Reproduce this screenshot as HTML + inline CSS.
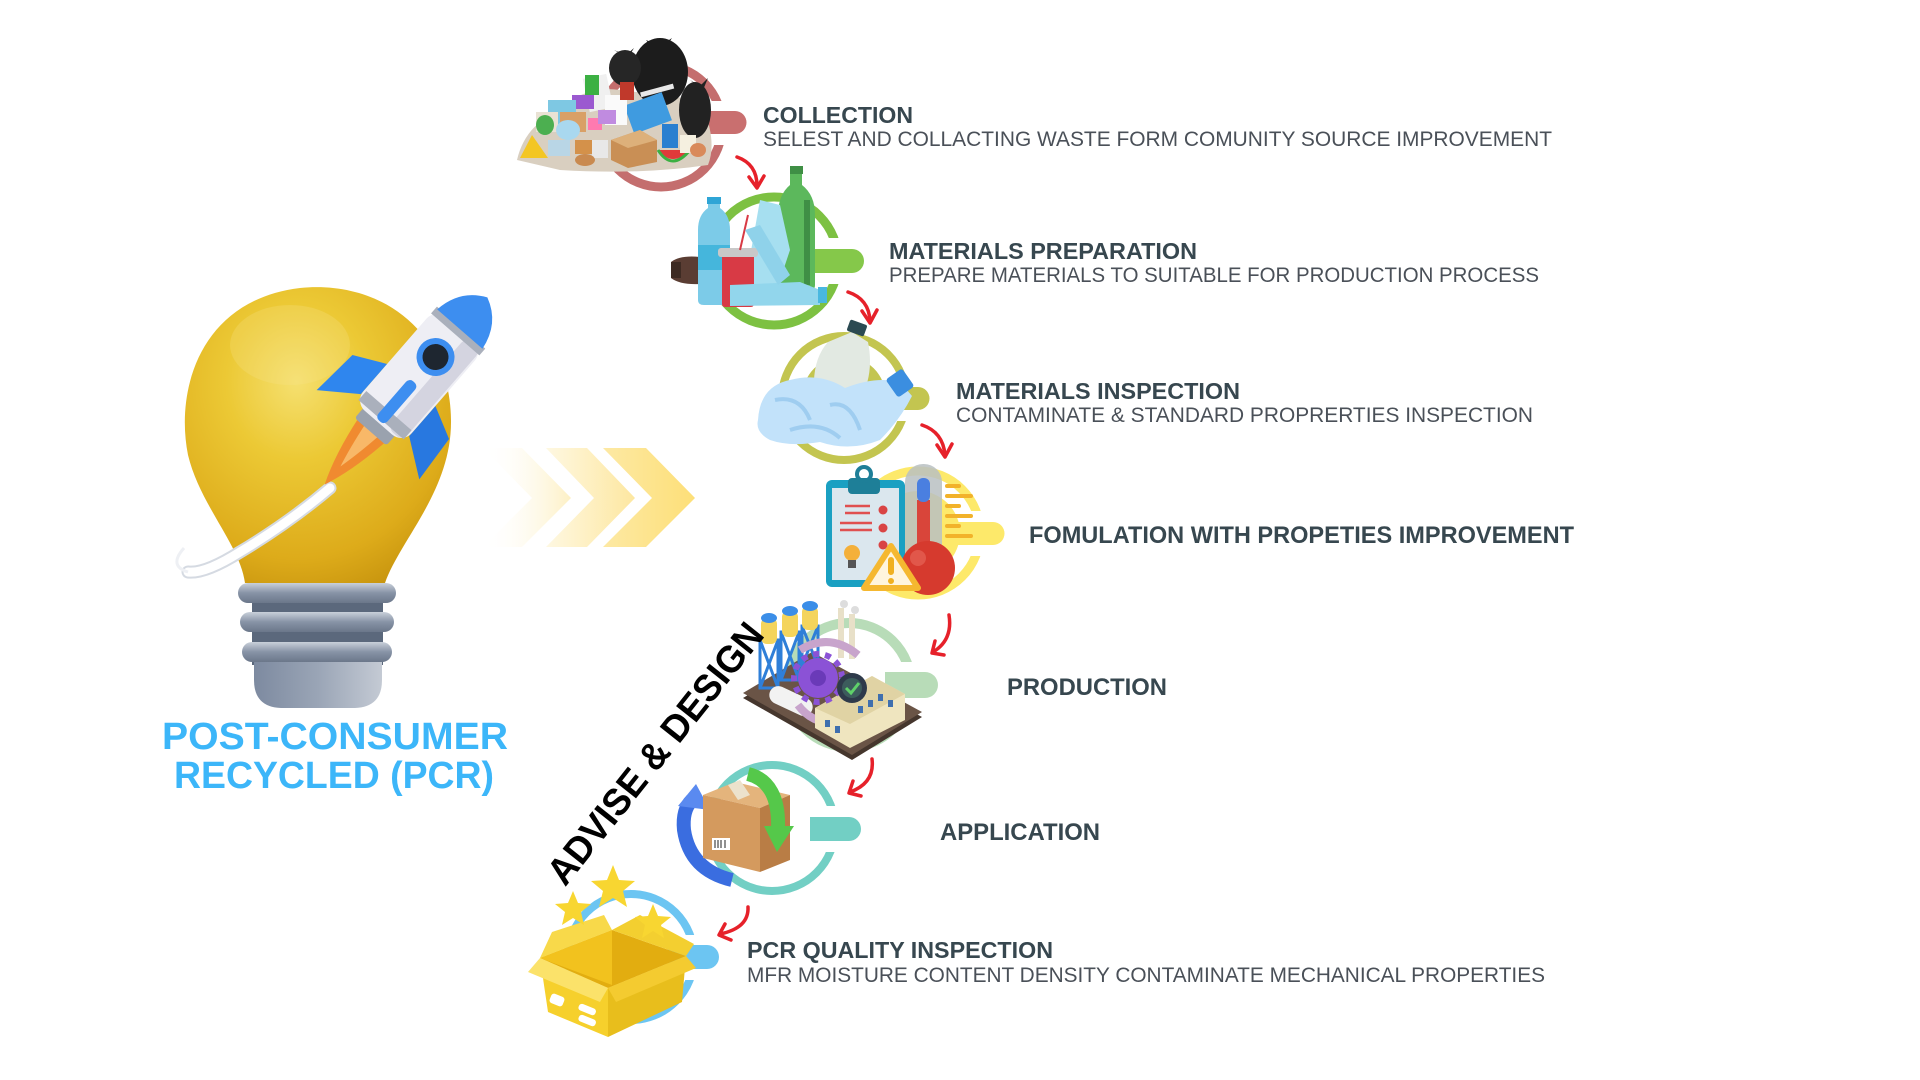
<!DOCTYPE html>
<html><head><meta charset="utf-8"><style>
html,body{margin:0;padding:0;background:#fff;width:1920px;height:1080px;overflow:hidden}
svg{display:block}
.h{font-family:"Liberation Sans",sans-serif;font-weight:bold;fill:#37474f}
.s{font-family:"Liberation Sans",sans-serif;fill:#4a5058}
</style></head><body>
<svg width="1920" height="1080" viewBox="0 0 1920 1080" xmlns="http://www.w3.org/2000/svg">
<defs>
<radialGradient id="bulbG" cx="0.42" cy="0.32" r="0.75">
<stop offset="0" stop-color="#f5e070"/><stop offset="0.35" stop-color="#ecc935"/><stop offset="0.8" stop-color="#ddab1a"/><stop offset="1" stop-color="#c9960f"/>
</radialGradient>
<linearGradient id="metal" x1="0" y1="0" x2="0" y2="1">
<stop offset="0" stop-color="#c9d0da"/><stop offset="0.5" stop-color="#8793a6"/><stop offset="1" stop-color="#6b778a"/>
</linearGradient>
<linearGradient id="metal2" x1="0" y1="0" x2="1" y2="0">
<stop offset="0" stop-color="#7d8aa0"/><stop offset="0.5" stop-color="#9aa5b6"/><stop offset="1" stop-color="#c4cad4"/>
</linearGradient>
<linearGradient id="ch1" gradientUnits="userSpaceOnUse" x1="483" y1="0" x2="571" y2="0">
<stop offset="0" stop-color="#fff" stop-opacity="0"/><stop offset="1" stop-color="#fdf0c4"/>
</linearGradient>
<linearGradient id="ch2" gradientUnits="userSpaceOnUse" x1="546" y1="0" x2="635" y2="0">
<stop offset="0" stop-color="#fef8e2"/><stop offset="1" stop-color="#fde7a0"/>
</linearGradient>
<linearGradient id="ch3" gradientUnits="userSpaceOnUse" x1="603" y1="0" x2="695" y2="0">
<stop offset="0" stop-color="#fde9a4"/><stop offset="1" stop-color="#fddf78"/>
</linearGradient>
</defs>
<rect width="1920" height="1080" fill="#fff"/>

<!-- ===== Lightbulb ===== -->
<path d="M 245 583 C 240 545 200 505 188 455 C 175 390 200 300 300 288 C 380 280 450 330 451 420 C 452 490 400 540 385 583 Z" fill="url(#bulbG)"/>
<ellipse cx="290" cy="345" rx="60" ry="40" fill="#f6e58c" opacity="0.25"/>
<rect x="252" y="585" width="131" height="80" fill="#5b687c"/>
<rect x="238" y="583" width="158" height="20" rx="10" fill="url(#metal)"/>
<rect x="240" y="612" width="154" height="20" rx="10" fill="url(#metal)"/>
<rect x="242" y="642" width="150" height="20" rx="10" fill="url(#metal)"/>
<path d="M 254 662 H 382 V 680 Q 382 707 355 708 H 281 Q 254 707 254 680 Z" fill="url(#metal2)"/>
<!-- trail -->
<path d="M 330 488 Q 290 522 240 552 Q 205 574 188 572" fill="none" stroke="#d5dae2" stroke-width="13" stroke-linecap="round"/>
<path d="M 330 488 Q 290 522 240 552 Q 205 574 188 572" fill="none" stroke="#fff" stroke-width="9" stroke-linecap="round"/>
<path d="M 188 572 Q 168 566 184 548" fill="none" stroke="#eef0f4" stroke-width="3"/>
<!-- rocket -->
<g transform="translate(406,391) rotate(41)">
<path d="M -18 52 Q -12 95 0 124 Q 12 95 18 52 Z" fill="#f08a30"/>
<path d="M -9 52 Q -5 80 0 100 Q 5 80 9 52 Z" fill="#f8b868"/>
<rect x="-21" y="38" width="42" height="16" rx="3" fill="#9aa2ae"/>
<path d="M -32 -8 L -64 8 L -68 58 L -32 32 Z" fill="#2f86ee"/>
<path d="M 32 -8 L 64 8 L 68 58 L 32 32 Z" fill="#2878e0"/>
<rect x="-32" y="-82" width="64" height="124" rx="14" fill="#eeeef4"/>
<rect x="10" y="-80" width="20" height="120" rx="8" fill="#d4d4e0"/>
<rect x="-32" y="-84" width="64" height="9" fill="#aab0bc"/>
<rect x="-30" y="26" width="60" height="12" fill="#aab0bc"/>
<path d="M -30 -82 Q -26 -112 0 -124 Q 26 -112 30 -82 Z" fill="#3d8ef0"/>
<circle cx="0" cy="-45" r="19" fill="#3d8ef0"/>
<circle cx="0" cy="-45" r="13" fill="#1e2630"/>
<rect x="-6" y="-12" width="12" height="52" rx="5" fill="#3d8ef0"/>
</g>

<!-- chevrons -->
<polygon points="483,448 522,448 571,498 522,547 483,547 532,498" fill="url(#ch1)"/>
<polygon points="546,448 587,448 635,498 587,547 546,547 594,498" fill="url(#ch2)"/>
<polygon points="603,448 646,448 695,498 646,547 603,547 652,498" fill="url(#ch3)"/>

<!-- PCR title -->
<text x="162" y="749" class="h" style="fill:#3cb6f9" font-size="38" textLength="346" lengthAdjust="spacingAndGlyphs">POST-CONSUMER</text>
<text x="174" y="788" class="h" style="fill:#3cb6f9" font-size="38" textLength="320" lengthAdjust="spacingAndGlyphs">RECYCLED (PCR)</text>

<!-- ===== Rings ===== -->
<circle cx="661" cy="126" r="61" fill="none" stroke="#c46e6e" stroke-width="9"/>
<rect x="708" y="101" width="24" height="44" fill="#fff"/>
<path d="M 700 111 H 735 A 11.5 11.5 0 0 1 735 134 H 700 Z" fill="#c96f6f"/>
<circle cx="774" cy="261" r="64" fill="none" stroke="#7dc142" stroke-width="9"/>
<rect x="822" y="238" width="24" height="46" fill="#fff"/>
<path d="M 815 249 H 852 A 12 12 0 0 1 852 273 H 815 Z" fill="#85c84a"/>
<circle cx="844" cy="398" r="62" fill="none" stroke="#c3c550" stroke-width="8"/>
<circle cx="844" cy="398" r="42" fill="#c3c550"/>
<rect x="890" y="376" width="24" height="45" fill="#fff"/>
<path d="M 880 387 H 918 A 11.5 11.5 0 0 1 918 410 H 880 Z" fill="#c3c550"/>
<circle cx="918" cy="533" r="62" fill="none" stroke="#fde96a" stroke-width="9"/>
<circle cx="918" cy="533" r="42" fill="#fde96a"/>
<rect x="964" y="511" width="24" height="45" fill="#fff"/>
<path d="M 955 522 H 993 A 11.5 11.5 0 0 1 993 545 H 955 Z" fill="#fde96a"/>
<circle cx="849" cy="685" r="62" fill="none" stroke="#b8dcb8" stroke-width="10"/>
<rect x="895" y="662" width="24" height="48" fill="#fff"/>
<path d="M 885 672 H 925 A 13 13 0 0 1 925 698 H 885 Z" fill="#b8dcb8"/>
<circle cx="772" cy="828" r="63" fill="none" stroke="#72cfc4" stroke-width="8"/>
<rect x="818" y="806" width="24" height="46" fill="#fff"/>
<path d="M 810 817 H 849 A 12 12 0 0 1 849 841 H 810 Z" fill="#72cfc4"/>
<circle cx="631" cy="957" r="63" fill="none" stroke="#6cc5f2" stroke-width="8"/>
<rect x="677" y="935" width="24" height="45" fill="#fff"/>
<path d="M 668 945 H 707 A 12 12 0 0 1 707 969 H 668 Z" fill="#6cc5f2"/>

<!-- ===== 1 Trash pile ===== -->
<path d="M 517 160 Q 525 125 560 110 Q 585 85 620 90 L 700 100 Q 718 140 708 165 Q 640 175 560 170 Z" fill="#d9cfc0"/>
<ellipse cx="660" cy="72" rx="28" ry="34" fill="#1c1c1c"/>
<path d="M 646 40 L 660 46 L 672 38 L 664 50 L 654 50 Z" fill="#1c1c1c"/>
<ellipse cx="625" cy="68" rx="16" ry="18" fill="#262626"/>
<path d="M 614 50 L 626 55 L 634 48 L 628 58 Z" fill="#262626"/>
<ellipse cx="695" cy="110" rx="16" ry="28" fill="#222"/>
<path d="M 690 80 L 700 86 L 708 78 L 703 90 Z" fill="#222"/>
<rect x="628" y="98" width="40" height="30" fill="#3f9be0" transform="rotate(-20 648 113)"/>
<rect x="586" y="76" width="24" height="34" fill="#f0f0f0" transform="rotate(-12 598 93)"/>
<rect x="605" y="95" width="22" height="30" fill="#fafafa"/>
<rect x="585" y="75" width="14" height="20" fill="#3cb043"/>
<rect x="572" y="95" width="22" height="14" fill="#9b59d0"/>
<rect x="640" y="88" width="34" height="5" fill="#e8e8e8" transform="rotate(-15 657 90)"/>
<rect x="620" y="82" width="14" height="18" fill="#c0392b"/>
<rect x="548" y="100" width="28" height="24" fill="#7ec8e3"/>
<rect x="536" y="112" width="22" height="20" fill="#e9e2d4"/>
<rect x="560" y="112" width="26" height="20" fill="#d9a066"/>
<ellipse cx="568" cy="130" rx="12" ry="10" fill="#a9d8ef"/>
<rect x="588" y="118" width="14" height="12" fill="#ff7ab0"/>
<rect x="598" y="110" width="18" height="14" fill="#c08be0"/>
<path d="M 520 158 L 532 135 L 548 158 Z" fill="#f3c623"/>
<ellipse cx="545" cy="125" rx="9" ry="10" fill="#4caf50"/>
<rect x="548" y="140" width="22" height="16" fill="#b9d6e6"/>
<rect x="575" y="140" width="18" height="14" fill="#d4914a"/>
<rect x="592" y="140" width="16" height="18" fill="#e8e8e8"/>
<ellipse cx="585" cy="160" rx="10" ry="6" fill="#c98a50"/>
<polygon points="611,140 640,130 657,140 657,162 628,168 611,160" fill="#c98f55"/>
<polygon points="611,140 640,130 657,140 628,148" fill="#ddb07a"/>
<rect x="662" y="124" width="16" height="24" fill="#2a7fd0"/>
<path d="M 658 150 Q 672 168 690 150 Z" fill="#e03a3a"/>
<path d="M 658 150 Q 672 172 690 150" fill="none" stroke="#3cb043" stroke-width="3"/>
<rect x="680" y="135" width="16" height="18" fill="#f5f0e0"/>
<ellipse cx="698" cy="150" rx="8" ry="7" fill="#d98a5a"/>

<!-- ===== 2 Prep bottles ===== -->
<path d="M 671 262 Q 680 255 700 257 L 800 262 Q 812 270 800 283 L 700 284 Q 680 285 671 278 Z" fill="#5a3d33"/>
<rect x="671" y="262" width="10" height="16" fill="#3d2a22"/>
<path d="M 790 172 L 802 172 L 802 185 Q 815 195 815 215 L 815 285 Q 815 292 806 292 L 786 292 Q 778 292 778 285 L 778 215 Q 778 195 790 185 Z" fill="#5cb85c"/>
<rect x="790" y="166" width="13" height="8" fill="#3f8f45"/>
<rect x="804" y="200" width="6" height="85" fill="#3f8f45"/>
<path d="M 760 200 L 780 205 L 790 250 L 775 295 L 745 285 Z" fill="#a6dff0"/>
<path d="M 708 200 L 720 200 L 720 208 Q 730 215 730 230 L 730 300 Q 730 305 724 305 L 704 305 Q 698 305 698 300 L 698 230 Q 698 215 708 208 Z" fill="#7ccbe8"/>
<rect x="707" y="197" width="14" height="7" fill="#2fa5d6"/>
<rect x="698" y="245" width="32" height="25" fill="#45b6dc"/>
<rect x="722" y="252" width="32" height="55" rx="3" fill="#d83a45"/>
<rect x="718" y="248" width="40" height="9" rx="3" fill="#c8c8c8"/>
<line x1="740" y1="250" x2="748" y2="215" stroke="#d83a45" stroke-width="2"/>
<path d="M 730 285 L 800 282 L 820 290 L 820 305 L 730 306 Z" fill="#92d6ec"/>
<rect x="818" y="287" width="9" height="16" fill="#49b8e0"/>
<path d="M 745 230 L 760 225 L 790 275 L 778 285 Z" fill="#8fd2ea"/>

<!-- ===== 3 Inspection ===== -->
<path d="M 815 400 Q 810 362 828 342 L 852 332 L 868 342 Q 874 372 862 396 Q 840 410 815 400 Z" fill="#e2e9e2"/>
<rect x="848" y="322" width="18" height="12" rx="2" fill="#2b4a52" transform="rotate(20 857 328)"/>
<path d="M 758 420 Q 760 386 790 380 Q 820 372 845 388 Q 875 376 900 382 L 912 396 Q 900 420 880 440 Q 850 452 820 442 Q 790 447 770 440 Q 755 432 758 420 Z" fill="#c2e2fa"/>
<path d="M 775 400 Q 800 395 810 420 M 830 405 Q 850 400 860 430 M 790 430 Q 820 420 840 438" fill="none" stroke="#9fcdf0" stroke-width="4"/>
<rect x="890" y="372" width="20" height="22" rx="3" fill="#3b8ee0" transform="rotate(-35 900 383)"/>

<!-- ===== 4 Formulation ===== -->
<rect x="826" y="480" width="79" height="107" rx="6" fill="#1aa0c2"/>
<rect x="832" y="488" width="67" height="92" fill="#dbe7ee"/>
<rect x="848" y="478" width="32" height="16" rx="4" fill="#1e7f98"/>
<circle cx="864" cy="474" r="7" fill="none" stroke="#1e7f98" stroke-width="4"/>
<g stroke="#e05050" stroke-width="2.5">
<line x1="845" y1="506" x2="870" y2="506"/><line x1="845" y1="513" x2="870" y2="513"/>
<line x1="840" y1="523" x2="872" y2="523"/><line x1="840" y1="530" x2="872" y2="530"/>
</g>
<circle cx="883" cy="510" r="4.5" fill="#d94444"/><circle cx="883" cy="528" r="4.5" fill="#d94444"/><circle cx="883" cy="545" r="4.5" fill="#d94444"/>
<circle cx="852" cy="553" r="8" fill="#f4b03a"/><rect x="848" y="560" width="8" height="8" fill="#555"/>
<rect x="905" y="464" width="37" height="112" rx="18" fill="#b8c0c2" opacity="0.85"/>
<rect x="917" y="500" width="13" height="72" fill="#d9453a"/>
<rect x="917" y="478" width="13" height="24" rx="6" fill="#4a7fe0"/>
<circle cx="928" cy="568" r="27" fill="#d63a2e"/>
<circle cx="918" cy="558" r="8" fill="#e86a5e" opacity="0.6"/>
<g fill="#f2b22a">
<rect x="945" y="484" width="16" height="4" rx="2"/><rect x="945" y="494" width="28" height="4" rx="2"/>
<rect x="945" y="504" width="16" height="4" rx="2"/><rect x="945" y="514" width="28" height="4" rx="2"/>
<rect x="945" y="524" width="16" height="4" rx="2"/><rect x="945" y="534" width="28" height="4" rx="2"/>
</g>
<path d="M 891 546 L 918 588 L 864 588 Z" fill="#fff5dd" stroke="#f5b830" stroke-width="6" stroke-linejoin="round"/>
<rect x="888" y="557" width="6" height="18" rx="3" fill="#f0b020"/><circle cx="891" cy="581" r="3" fill="#f0b020"/>

<!-- ===== 5 Production ===== -->
<polygon points="743,698 812,657 922,717 852,760" fill="#45362d"/>
<polygon points="743,693 812,652 922,712 852,755" fill="#6a5446"/>
<g stroke="#2f7fd8" stroke-width="3" fill="none">
<rect x="760" y="640" width="18" height="48"/><line x1="760" y1="640" x2="778" y2="688"/><line x1="778" y1="640" x2="760" y2="688"/>
<rect x="781" y="632" width="18" height="48"/><line x1="781" y1="632" x2="799" y2="680"/><line x1="799" y1="632" x2="781" y2="680"/>
<rect x="802" y="626" width="16" height="40"/><line x1="802" y1="626" x2="818" y2="666"/><line x1="818" y1="626" x2="802" y2="666"/>
</g>
<rect x="761" y="618" width="16" height="26" rx="6" fill="#f4d45c"/><ellipse cx="769" cy="618" rx="8" ry="5" fill="#3b8ee8"/>
<rect x="782" y="611" width="16" height="26" rx="6" fill="#f4d45c"/><ellipse cx="790" cy="611" rx="8" ry="5" fill="#3b8ee8"/>
<rect x="802" y="606" width="16" height="24" rx="6" fill="#f4d45c"/><ellipse cx="810" cy="606" rx="8" ry="5" fill="#3b8ee8"/>
<rect x="838" y="608" width="6" height="50" fill="#e8e0c8"/><rect x="849" y="614" width="6" height="45" fill="#e8e0c8"/>
<circle cx="844" cy="604" r="4" fill="#ddd"/><circle cx="855" cy="610" r="4" fill="#ddd"/>
<rect x="768" y="692" width="46" height="18" rx="9" fill="#f2f2f2" transform="rotate(25 791 701)"/>
<path d="M 800 650 Q 830 632 858 655" fill="none" stroke="#c8a4cc" stroke-width="8"/>
<path d="M 798 705 Q 815 728 848 722" fill="none" stroke="#c8a4cc" stroke-width="8"/>
<polygon points="815,708 872,676 905,694 905,720 850,748 815,728" fill="#efe5bf"/>
<polygon points="815,708 872,676 905,694 850,724" fill="#e0d3a4"/>
<g fill="#3f6fae"><rect x="858" y="706" width="5" height="7"/><rect x="868" y="700" width="5" height="7"/><rect x="878" y="694" width="5" height="7"/><rect x="888" y="700" width="5" height="7"/><rect x="825" y="720" width="5" height="7"/><rect x="835" y="726" width="5" height="7"/></g>
<circle cx="818" cy="678" r="20" fill="#8b52d6"/>
<circle cx="818" cy="678" r="24" fill="none" stroke="#8b52d6" stroke-width="6" stroke-dasharray="6 6"/>
<circle cx="818" cy="678" r="8" fill="#6a3ab8"/>
<circle cx="852" cy="688" r="15" fill="#2e3a4a"/>
<circle cx="852" cy="688" r="10" fill="#3c5c5c"/>
<path d="M 846 688 L 851 693 L 859 683" fill="none" stroke="#5fd16a" stroke-width="3"/>

<!-- ===== 6 Application ===== -->
<path d="M 732 880 Q 690 870 684 830 Q 682 810 692 800" fill="none" stroke="#3a6de0" stroke-width="14"/>
<polygon points="678,806 696,784 710,810" fill="#5a8af0"/>
<polygon points="703,795 735,782 790,795 760,808" fill="#e4b47c"/>
<polygon points="703,795 760,808 760,872 703,858" fill="#d49a5e"/>
<polygon points="760,808 790,795 790,860 760,872" fill="#b97d45"/>
<polygon points="728,785 740,780 750,795 738,800" fill="#ece2cc"/>
<rect x="712" y="838" width="18" height="12" fill="#fff"/>
<g stroke="#222" stroke-width="1"><line x1="715" y1="840" x2="715" y2="848"/><line x1="718" y1="840" x2="718" y2="848"/><line x1="721" y1="840" x2="721" y2="848"/><line x1="725" y1="840" x2="725" y2="848"/></g>
<path d="M 748 774 Q 780 782 778 830" fill="none" stroke="#55c84a" stroke-width="14"/>
<polygon points="764,826 794,826 777,852" fill="#55c84a"/>

<!-- ===== 7 PCR box ===== -->
<polygon points="540,958 612,930 686,956 608,988" fill="#e2ad10"/>
<polygon points="540,958 612,930 612,985" fill="#f2c21e"/>
<polygon points="540,958 612,930 604,915 552,932" fill="#f8d94a"/>
<polygon points="612,930 686,956 694,944 640,915" fill="#f3cf30"/>
<polygon points="540,958 608,988 608,1037 548,1012" fill="#f6d02c"/>
<polygon points="608,988 686,956 682,1002 608,1037" fill="#e8be1c"/>
<polygon points="540,958 608,988 600,1002 528,972" fill="#fbe26a"/>
<polygon points="608,988 686,956 696,968 616,1002" fill="#f4cb30"/>
<rect x="550" y="995" width="14" height="10" rx="3" fill="#fff" transform="rotate(22 557 1000)"/>
<rect x="578" y="1006" width="18" height="7" rx="3" fill="#fff" transform="rotate(22 587 1010)"/>
<rect x="578" y="1017" width="18" height="7" rx="3" fill="#fff" transform="rotate(22 587 1021)"/>
<polygon points="573,891 578,903 591,904 581,912 584,925 573,918 562,925 565,912 555,904 568,903" fill="#f8d631"/>
<polygon points="613,865 619,880 635,881 623,891 627,907 613,898 599,907 603,891 591,881 607,880" fill="#f8d631"/>
<polygon points="653,904 658,916 671,917 661,925 664,938 653,931 642,938 645,925 635,917 648,916" fill="#f8d631"/>

<!-- ===== red arrows ===== -->
<g fill="none" stroke="#e6212a" stroke-width="3.5" stroke-linecap="round" stroke-linejoin="round">
<path d="M 737 157 Q 757 164 757 186"/><polyline points="749,177 757,188 764,176"/>
<path d="M 848 292 Q 869 299 870 321"/><polyline points="862,311 870,323 877,310"/>
<path d="M 922 425 Q 943 432 945 455"/><polyline points="937,445 945,457 952,444"/>
<path d="M 949 615 Q 953 640 933 652"/><polyline points="935,641 932,653 944,655"/>
<path d="M 872 759 Q 875 783 850 792"/><polyline points="853,781 849,793 861,796"/>
<path d="M 748 907 Q 749 928 720 934"/><polyline points="725,924 719,935 731,940"/>
</g>

<!-- ADVISE & DESIGN (on top) -->
<text x="0" y="0" transform="translate(656,754) rotate(-51.5)" text-anchor="middle" dominant-baseline="central" font-family="Liberation Sans, sans-serif" font-weight="bold" font-size="38" fill="#000" textLength="322" lengthAdjust="spacingAndGlyphs">ADVISE &amp; DESIGN</text>

<!-- ===== labels ===== -->
<text x="763" y="123" class="h" font-size="23" textLength="150" lengthAdjust="spacingAndGlyphs">COLLECTION</text>
<text x="763" y="146" class="s" font-size="21" textLength="789" lengthAdjust="spacingAndGlyphs">SELEST AND COLLACTING WASTE FORM COMUNITY SOURCE IMPROVEMENT</text>
<text x="889" y="259" class="h" font-size="23" textLength="308" lengthAdjust="spacingAndGlyphs">MATERIALS PREPARATION</text>
<text x="889" y="282" class="s" font-size="21" textLength="650" lengthAdjust="spacingAndGlyphs">PREPARE MATERIALS TO SUITABLE FOR PRODUCTION PROCESS</text>
<text x="956" y="399" class="h" font-size="23" textLength="284" lengthAdjust="spacingAndGlyphs">MATERIALS INSPECTION</text>
<text x="956" y="422" class="s" font-size="21" textLength="577" lengthAdjust="spacingAndGlyphs">CONTAMINATE &amp; STANDARD PROPRERTIES INSPECTION</text>
<text x="1029" y="543" class="h" font-size="24" textLength="545" lengthAdjust="spacingAndGlyphs">FOMULATION WITH PROPETIES IMPROVEMENT</text>
<text x="1007" y="695" class="h" font-size="24" textLength="160" lengthAdjust="spacingAndGlyphs">PRODUCTION</text>
<text x="940" y="840" class="h" font-size="24" textLength="160" lengthAdjust="spacingAndGlyphs">APPLICATION</text>
<text x="747" y="958" class="h" font-size="23" textLength="306" lengthAdjust="spacingAndGlyphs">PCR QUALITY INSPECTION</text>
<text x="747" y="982" class="s" font-size="21" textLength="798" lengthAdjust="spacingAndGlyphs">MFR MOISTURE CONTENT DENSITY CONTAMINATE MECHANICAL PROPERTIES</text>
</svg>
</body></html>
